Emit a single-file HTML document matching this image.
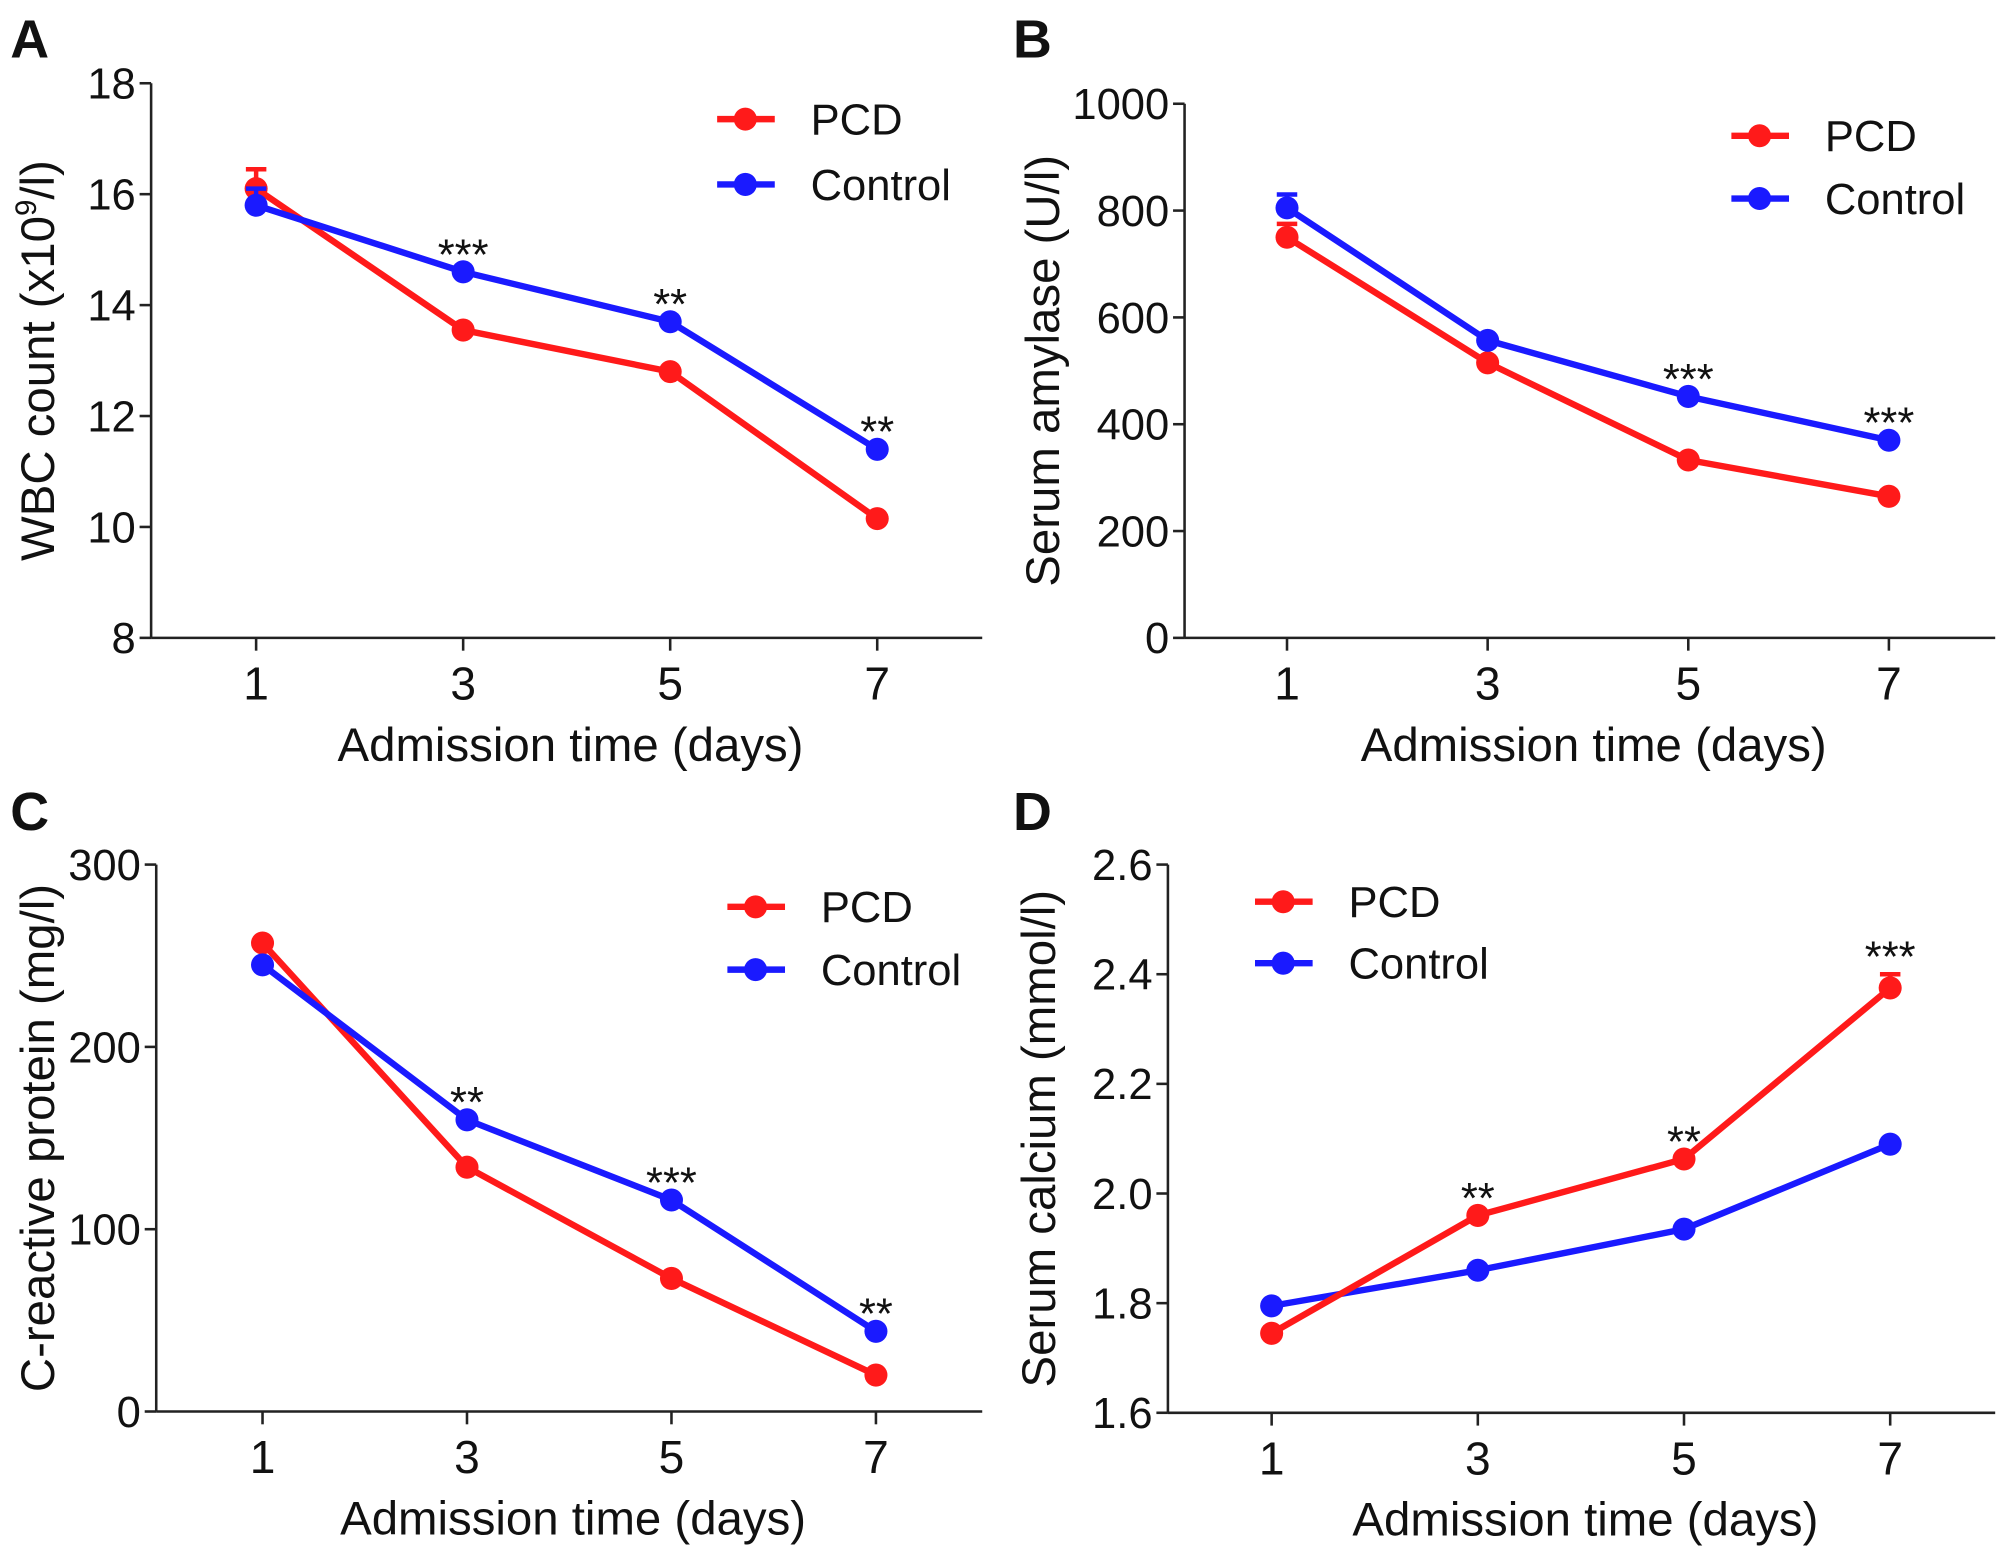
<!DOCTYPE html>
<html><head><meta charset="utf-8"><style>
html,body{margin:0;padding:0;background:#fff}
svg{display:block}
text{font-family:"Liberation Sans",Arial,sans-serif;fill:#111}
</style></head><body>
<svg id="fig" xmlns="http://www.w3.org/2000/svg" width="2008" height="1546" viewBox="0 0 1568 1207" preserveAspectRatio="none"></svg>
<script>
const days = [1, 3, 5, 7];
const aPCD = [16.1, 13.55, 12.8, 10.15];
const aPCDErr = [0.35, 0, 0, 0];
const aCtrl = [15.8, 14.6, 13.7, 11.4];
const aCtrlErr = [0.3, 0, 0, 0];
const aStars = ["", "***", "**", "**"];
const aTicks = [8, 10, 12, 14, 16, 18];
const bPCD = [750, 515, 333, 265];
const bPCDErr = [25, 0, 0, 0];
const bCtrl = [805, 557, 452, 370];
const bCtrlErr = [25, 0, 0, 0];
const bStars = ["", "", "***", "***"];
const bTicks = [0, 200, 400, 600, 800, 1000];
const cPCD = [257, 134, 73, 20];
const cPCDErr = [0, 0, 0, 0];
const cCtrl = [245, 160, 116, 44];
const cCtrlErr = [0, 0, 0, 0];
const cStars = ["", "**", "***", "**"];
const cTicks = [0, 100, 200, 300];
const dPCD = [1.745, 1.96, 2.063, 2.375];
const dPCDErr = [0, 0, 0, 0.025];
const dCtrl = [1.795, 1.86, 1.935, 2.09];
const dCtrlErr = [0, 0, 0, 0];
const dStars = ["", "**", "**", "***"];
const dTicks = ["1.6", "1.8", "2.0", "2.2", "2.4", "2.6"];

const NS = "http://www.w3.org/2000/svg";
const svg = document.getElementById("fig");
function mk(tag, attrs, parent, txt) {
  const e = document.createElementNS(NS, tag);
  for (const k in attrs) e.setAttribute(k, attrs[k]);
  if (txt !== undefined) e.textContent = txt;
  (parent || svg).appendChild(e);
  return e;
}

function panel(cfg) {
  const g = mk("g", {});
  
  
  const ticks = cfg.ticks.map(Number);
  const ymin = ticks[0], ymax = ticks[ticks.length - 1];
  const y = v => cfg.yBot - (v - ymin) / (ymax - ymin) * (cfg.yBot - cfg.yTop);
  const x = d => cfg.x1 + (d - 1) / 6 * (cfg.x7 - cfg.x1);

  const lt = mk("text", {x: cfg.letterX, y: cfg.letterY, "font-size": 42, "font-weight": "bold"}, g, cfg.letter);
  
  

  const yax = mk("line", {x1: cfg.ax, y1: cfg.yTop, x2: cfg.ax, y2: cfg.yBot, stroke: "#222", "stroke-width": 2}, g);
  
  
  const xax = mk("line", {x1: cfg.ax, y1: cfg.yBot, x2: cfg.xEnd, y2: cfg.yBot, stroke: "#222", "stroke-width": 2}, g);
  
  

  cfg.ticks.forEach((t, i) => {
    const yy = y(ticks[i]);
    mk("line", {x1: cfg.ax - 9, y1: yy, x2: cfg.ax, y2: yy, stroke: "#222", "stroke-width": 2}, g);
    const tl = mk("text", {x: cfg.ax - 12, y: yy + 12, "font-size": 34, "text-anchor": "end"}, g, String(t));
    
    
  });
  days.forEach(d => {
    const xx = x(d);
    mk("line", {x1: xx, y1: cfg.yBot, x2: xx, y2: cfg.yBot + 10, stroke: "#222", "stroke-width": 2}, g);
    const tl = mk("text", {x: xx, y: cfg.yBot + 48, "font-size": 36, "text-anchor": "middle"}, g, String(d));
    
    
  });
  const xt = mk("text", {x: (cfg.ax + cfg.xEnd) / 2 + 3, y: cfg.yBot + 96, "font-size": 37, "text-anchor": "middle"}, g, "Admission time (days)");
  
  
  const cy = (cfg.yTop + cfg.yBot) / 2 + cfg.ytOff;
  const yt = mk("text", {x: 0, y: 0, "font-size": 37, "text-anchor": "middle", transform: `translate(${cfg.ytX},${cy}) rotate(-90)`}, g);
  if (cfg.sup) {
    yt.appendChild(document.createTextNode("WBC count (x10"));
    mk("tspan", {"font-size": 23, dy: -14}, yt, "9");
    mk("tspan", {dy: 14}, yt, "/l)");
  } else yt.textContent = cfg.ytitle;
  
  

  const series = [
    {name: "pcd", color: "#ff1a1a", vals: cfg.pcd, err: cfg.pcdErr},
    {name: "control", color: "#1a1aff", vals: cfg.ctrl, err: cfg.ctrlErr}
  ];
  const order = cfg.redTop ? [1, 0] : [0, 1];
  order.forEach(si => {
    const s = series[si];
    const sg = mk("g", {}, g);
    
    
    const pts = days.map((d, i) => x(d) + "," + y(s.vals[i])).join(" ");
    const pl = mk("polyline", {points: pts, fill: "none", stroke: s.color, "stroke-width": 5, "stroke-linejoin": "round"}, sg);
    
    
    days.forEach((d, i) => {
      if (s.err[i] > 0) {
        const y0 = y(s.vals[i]), y1 = y(s.vals[i] + s.err[i]);
        mk("line", {x1: x(d), y1: y0, x2: x(d), y2: y1, stroke: s.color, "stroke-width": 3.5}, sg);
        mk("line", {x1: x(d) - 8, y1: y1, x2: x(d) + 8, y2: y1, stroke: s.color, "stroke-width": 3.5}, sg);
      }
      const c = mk("circle", {cx: x(d), cy: y(s.vals[i]), r: 9, fill: s.color}, sg);
      
      
    });
  });
  days.forEach((d, i) => {
    if (!cfg.stars[i]) return;
    const top = Math.max(cfg.pcd[i] + cfg.pcdErr[i], cfg.ctrl[i] + cfg.ctrlErr[i]);
    const st = mk("text", {x: x(d), y: y(top) - 2, "font-size": 34, "text-anchor": "middle"}, g, cfg.stars[i]);
    
    
  });
  [["PCD", "#ff1a1a", 0, "pcd"], ["Control", "#1a1aff", 1, "control"]].forEach(([lab, col, k, nm]) => {
    const ly = cfg.legY + k * cfg.legGap;
    const lg = mk("g", {}, g);
    
    
    mk("line", {x1: cfg.legX, y1: ly, x2: cfg.legX + 45, y2: ly, stroke: col, "stroke-width": 5}, lg);
    mk("circle", {cx: cfg.legX + 22, cy: ly, r: 9, fill: col}, lg);
    mk("text", {x: cfg.legX + 73, y: ly + 12, "font-size": 34}, lg, lab);
  });
}

panel({letter: "A", letterX: 8, letterY: 45, ax: 118, yTop: 65, yBot: 498, xEnd: 767, x1: 200, x7: 685,
  ticks: aTicks, pcd: aPCD, pcdErr: aPCDErr, ctrl: aCtrl, ctrlErr: aCtrlErr, stars: aStars,
  ytX: 42, ytOff: 0, sup: true, legX: 560, legY: 93, legGap: 51, redTop: false});
panel({letter: "B", letterX: 791, letterY: 45, ax: 925, yTop: 81, yBot: 498, xEnd: 1558, x1: 1005, x7: 1475,
  ticks: bTicks, pcd: bPCD, pcdErr: bPCDErr, ctrl: bCtrl, ctrlErr: bCtrlErr, stars: bStars,
  ytX: 827, ytOff: 0, ytitle: "Serum amylase (U/l)", legX: 1352, legY: 106, legGap: 49, redTop: false});
panel({letter: "C", letterX: 8, letterY: 648, ax: 122, yTop: 675, yBot: 1102, xEnd: 767, x1: 205, x7: 684,
  ticks: cTicks, pcd: cPCD, pcdErr: cPCDErr, ctrl: cCtrl, ctrlErr: cCtrlErr, stars: cStars,
  ytX: 42, ytOff: 0, ytitle: "C-reactive protein (mg/l)", legX: 568, legY: 708, legGap: 49, redTop: false});
panel({letter: "D", letterX: 791, letterY: 648, ax: 912, yTop: 675, yBot: 1103, xEnd: 1558, x1: 993, x7: 1476,
  ticks: dTicks, pcd: dPCD, pcdErr: dPCDErr, ctrl: dCtrl, ctrlErr: dCtrlErr, stars: dStars,
  ytX: 824, ytOff: 0, ytitle: "Serum calcium (mmol/l)", legX: 980, legY: 704, legGap: 48, redTop: true});
</script>
</body></html>
